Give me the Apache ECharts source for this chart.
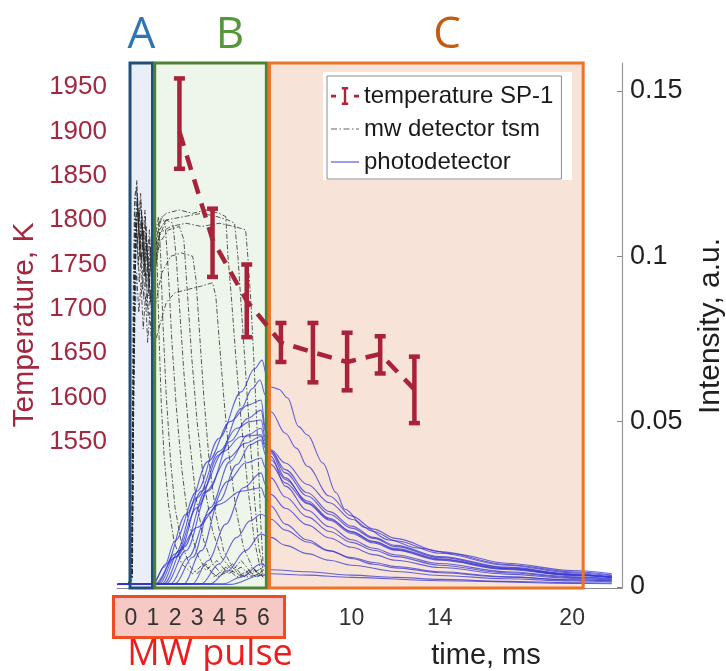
<!DOCTYPE html>
<html><head><meta charset="utf-8">
<script src="https://cdn.jsdelivr.net/npm/echarts@6/dist/echarts.min.js"></script>
<style>html,body{margin:0;padding:0;background:#fff}#c{width:726px;height:671px}</style>
</head><body><div id="c"></div>
<script>
// ---------- tick labels ----------
const xTickValues = [0, 1, 2, 3, 4, 5, 6, 10, 14, 20];
const tempTickValues = [1550, 1600, 1650, 1700, 1750, 1800, 1850, 1900, 1950];
const intensityTickValues = [0, 0.05, 0.1, 0.15];

// ---------- temperature SP-1 (errorbars) ----------
const tempTime = [2.2, 3.7, 5.25, 6.8, 8.25, 9.8, 11.3, 12.85];
const tempMean = [1900, 1778, 1709, 1662, 1651, 1640, 1649, 1609];
const tempLow  = [1858, 1736, 1668, 1640, 1617, 1608, 1627, 1571];
const tempHigh = [1960, 1813, 1750, 1684, 1684, 1673, 1669, 1646];

// ---------- phase regions (time, ms) ----------
const regionNames = ['A', 'B', 'C'];
const regionStart = [-0.04, 1.08, 6.28];
const regionEnd = [0.98, 6.14, 20.5];

// ---------- mw detector tsm traces [time ms, intensity] ----------
const mw1 = [[-0.1,0.001],[0.03,0.004],[0.1,0.07],[0.18,0.115],[0.27,0.123],[0.35,0.108],[0.45,0.117],[0.55,0.1],[0.65,0.112],[0.75,0.096],[0.85,0.105],[0.95,0.092],[1.05,0.1],[1.15,0.108],[1.25,0.112],[1.35,0.1],[1.45,0.08],[1.6,0.058],[1.8,0.038],[2.0,0.024],[2.3,0.013],[2.7,0.006],[3.0,0.004],[3.4,0.007],[3.8,0.003],[4.3,0.006],[4.8,0.003],[5.3,0.005],[5.7,0.003],[6.0,0.004]];
const mw2 = [[-0.1,0.001],[0.05,0.003],[0.12,0.06],[0.2,0.1],[0.3,0.118],[0.4,0.102],[0.5,0.111],[0.6,0.095],[0.7,0.104],[0.8,0.088],[0.9,0.098],[1.0,0.088],[1.1,0.1],[1.25,0.108],[1.4,0.112],[1.55,0.11],[1.7,0.095],[1.85,0.075],[2.05,0.055],[2.3,0.036],[2.6,0.02],[3.0,0.01],[3.4,0.005],[3.9,0.008],[4.4,0.004],[5.0,0.006],[5.5,0.003],[6.0,0.005]];
const mw3 = [[-0.1,0.001],[0.04,0.003],[0.1,0.05],[0.16,0.09],[0.25,0.11],[0.33,0.097],[0.42,0.106],[0.52,0.09],[0.62,0.1],[0.72,0.085],[0.83,0.095],[0.95,0.08],[1.05,0.09],[1.15,0.1],[1.3,0.108],[1.6,0.111],[1.9,0.11],[2.05,0.1],[2.2,0.085],[2.4,0.065],[2.65,0.045],[2.95,0.027],[3.3,0.014],[3.7,0.007],[4.1,0.004],[4.6,0.007],[5.1,0.003],[5.6,0.005],[6.0,0.003]];
const mw4 = [[-0.1,0.001],[0.06,0.004],[0.13,0.08],[0.22,0.112],[0.3,0.104],[0.38,0.114],[0.48,0.098],[0.58,0.108],[0.68,0.092],[0.78,0.1],[0.88,0.086],[0.98,0.094],[1.1,0.096],[1.3,0.104],[1.7,0.108],[2.2,0.109],[2.4,0.105],[2.55,0.09],[2.75,0.07],[3.0,0.05],[3.3,0.032],[3.7,0.017],[4.1,0.009],[4.6,0.005],[5.0,0.008],[5.5,0.004],[6.0,0.006]];
const mw5 = [[-0.1,0.001],[0.05,0.002],[0.11,0.045],[0.18,0.08],[0.26,0.095],[0.36,0.083],[0.46,0.092],[0.56,0.078],[0.66,0.088],[0.76,0.074],[0.86,0.083],[0.96,0.07],[1.1,0.074],[1.3,0.079],[1.6,0.086],[2.0,0.089],[2.6,0.09],[3.2,0.091],[3.7,0.092],[3.85,0.088],[4.0,0.075],[4.2,0.058],[4.45,0.04],[4.75,0.024],[5.1,0.012],[5.5,0.006],[5.8,0.004],[6.0,0.005]];
const mw6 = [[-0.1,0.001],[0.04,0.005],[0.1,0.085],[0.17,0.118],[0.25,0.121],[0.34,0.11],[0.44,0.119],[0.54,0.105],[0.64,0.114],[0.74,0.1],[0.84,0.108],[0.94,0.095],[1.05,0.1],[1.15,0.105],[1.3,0.111],[1.6,0.113],[2.2,0.114],[2.8,0.113],[3.4,0.114],[4.0,0.113],[4.3,0.112],[4.4,0.1],[4.55,0.088],[4.75,0.07],[5.0,0.05],[5.3,0.03],[5.6,0.014],[5.85,0.006],[6.0,0.004]];
const mw7 = [[-0.1,0.001],[0.07,0.003],[0.14,0.07],[0.22,0.105],[0.32,0.113],[0.42,0.099],[0.52,0.11],[0.62,0.094],[0.72,0.104],[0.82,0.09],[0.92,0.1],[1.02,0.092],[1.1,0.098],[1.3,0.107],[1.8,0.109],[2.5,0.11],[3.2,0.109],[4.0,0.11],[4.7,0.109],[5.2,0.108],[5.3,0.1],[5.45,0.085],[5.6,0.065],[5.75,0.043],[5.88,0.02],[6.0,0.006]];
const mw8 = [[-0.1,0.001],[0.05,0.003],[0.12,0.065],[0.2,0.104],[0.3,0.116],[0.4,0.1],[0.5,0.112],[0.6,0.097],[0.7,0.107],[0.8,0.093],[0.9,0.101],[1.0,0.09],[1.1,0.095],[1.3,0.106],[1.6,0.111],[2.4,0.112],[3.2,0.113],[3.9,0.112],[4.4,0.111],[4.7,0.11],[4.85,0.1],[5.0,0.085],[5.2,0.065],[5.4,0.045],[5.6,0.027],[5.8,0.012],[6.0,0.005]];
const mw9 = [[-0.1,0.001],[0.04,0.003],[0.11,0.055],[0.19,0.095],[0.28,0.106],[0.38,0.092],[0.48,0.101],[0.58,0.087],[0.68,0.096],[0.78,0.082],[0.88,0.09],[0.98,0.079],[1.1,0.085],[1.4,0.095],[1.8,0.1],[2.3,0.101],[2.8,0.1],[2.95,0.093],[3.1,0.078],[3.3,0.058],[3.55,0.038],[3.85,0.022],[4.2,0.011],[4.6,0.006],[5.0,0.003],[5.5,0.006],[6.0,0.003]];
const mw10 = [[-0.1,0.001],[0.06,0.004],[0.13,0.075],[0.21,0.11],[0.29,0.119],[0.39,0.105],[0.49,0.114],[0.59,0.099],[0.69,0.109],[0.79,0.094],[0.89,0.103],[0.99,0.094],[1.05,0.1],[1.15,0.106],[1.2,0.095],[1.28,0.075],[1.38,0.055],[1.5,0.04],[1.7,0.025],[1.95,0.014],[2.3,0.007],[2.8,0.004],[3.3,0.007],[3.9,0.003],[4.5,0.005],[5.2,0.003],[6.0,0.004]];

// ---------- photodetector traces [time ms, intensity] ----------
const pd1 = [[-0.6,0.0008],[1.0,0.001],[1.5,0.006],[2.0,0.014],[3.0,0.029],[4.0,0.045],[5.0,0.059],[5.6,0.066],[5.95,0.0686],[6.15,0.064],[6.35,0.0605],[6.7,0.0598],[7.1,0.0572],[7.6,0.0485],[8.0,0.046],[8.7,0.0375],[9.3,0.0285],[9.7,0.0235],[10.6,0.018],[11.7,0.0142],[13.0,0.0118],[14.7,0.01],[17.0,0.0072],[20.0,0.005],[21.8,0.004]];
const pd2 = [[-0.6,0.0008],[1.3,0.001],[2.0,0.009],[3.0,0.024],[4.0,0.04],[5.0,0.054],[5.5,0.06],[5.85,0.0626],[6.1,0.058],[6.35,0.053],[7.0,0.0465],[7.5,0.042],[8.0,0.0365],[9.0,0.0275],[10.0,0.0215],[11.0,0.0175],[12.0,0.0147],[14.0,0.0107],[17.0,0.0068],[20.0,0.0046],[21.8,0.0036]];
const pd3 = [[-0.6,0.0008],[1.0,0.001],[1.6,0.007],[2.5,0.022],[3.5,0.038],[4.5,0.05],[5.3,0.055],[5.9,0.0565],[6.1,0.048],[6.35,0.0415],[7.0,0.0375],[8.0,0.031],[9.0,0.0255],[10.0,0.0205],[11.0,0.0168],[12.0,0.014],[14.0,0.0102],[17.0,0.0066],[20.0,0.0043],[21.8,0.0034]];
const pd4 = [[-0.6,0.0008],[1.6,0.001],[2.5,0.011],[3.5,0.029],[4.5,0.044],[5.3,0.051],[5.9,0.0535],[6.1,0.047],[6.35,0.0412],[7.0,0.0355],[8.0,0.0285],[9.0,0.0228],[10.0,0.0184],[11.0,0.015],[12.0,0.0126],[14.0,0.0092],[17.0,0.006],[20.0,0.004],[21.8,0.0031]];
const pd5 = [[-0.6,0.0008],[1.2,0.001],[2.0,0.01],[3.0,0.027],[4.0,0.041],[4.8,0.048],[5.4,0.05],[5.9,0.0505],[6.1,0.045],[6.35,0.0405],[7.0,0.033],[8.0,0.0255],[9.0,0.0205],[10.0,0.0168],[11.0,0.0138],[12.0,0.0116],[14.0,0.0085],[17.0,0.0056],[20.0,0.0037],[21.8,0.003]];
const pd6 = [[-0.6,0.0008],[2.0,0.001],[2.8,0.009],[3.6,0.024],[4.5,0.038],[5.3,0.046],[5.9,0.048],[6.1,0.044],[6.35,0.041],[7.0,0.0345],[8.0,0.0275],[9.0,0.022],[10.0,0.0178],[11.0,0.0147],[12.0,0.0122],[14.0,0.0089],[17.0,0.0058],[20.0,0.0038],[21.8,0.003]];
const pd7 = [[-0.6,0.0008],[1.4,0.001],[2.2,0.011],[3.2,0.029],[4.2,0.041],[5.0,0.0455],[5.9,0.046],[6.1,0.043],[6.35,0.0395],[7.0,0.0305],[8.0,0.0232],[9.0,0.0182],[10.0,0.0143],[11.0,0.0117],[12.0,0.0097],[14.0,0.0071],[17.0,0.0046],[20.0,0.0031],[21.8,0.0025]];
const pd8 = [[-0.6,0.0008],[2.4,0.001],[3.2,0.011],[4.0,0.026],[4.8,0.037],[5.4,0.043],[5.9,0.0445],[6.1,0.04],[6.35,0.037],[7.0,0.0315],[8.0,0.0252],[9.0,0.0202],[10.0,0.0162],[11.0,0.0133],[12.0,0.0111],[14.0,0.0081],[17.0,0.0053],[20.0,0.0035],[21.8,0.0028]];
const pd9 = [[-0.6,0.0008],[1.8,0.001],[2.6,0.009],[3.5,0.022],[4.4,0.032],[5.2,0.0375],[5.9,0.039],[6.1,0.036],[6.35,0.033],[7.0,0.0272],[8.0,0.0212],[9.0,0.0168],[10.0,0.0135],[11.0,0.0111],[12.0,0.0092],[14.0,0.0066],[17.0,0.0043],[20.0,0.0029],[21.8,0.0023]];
const pd10 = [[-0.6,0.0008],[2.8,0.001],[3.5,0.008],[4.3,0.019],[5.1,0.03],[5.9,0.0345],[6.1,0.031],[6.35,0.028],[7.0,0.0238],[8.0,0.0188],[9.0,0.0148],[10.0,0.012],[11.0,0.0098],[12.0,0.0081],[14.0,0.0059],[17.0,0.0039],[20.0,0.0026],[21.8,0.0021]];
const pd11 = [[-0.6,0.0008],[1.1,0.001],[2.0,0.009],[3.0,0.018],[4.0,0.025],[5.0,0.029],[5.9,0.03],[6.1,0.027],[6.35,0.0245],[7.0,0.019],[8.0,0.0142],[9.0,0.011],[10.0,0.0086],[11.0,0.0069],[12.0,0.0058],[14.0,0.0043],[17.0,0.003],[20.0,0.0021],[21.8,0.0018]];
const pd12 = [[-0.6,0.0008],[3.2,0.001],[4.0,0.007],[4.8,0.015],[5.4,0.02],[5.9,0.022],[6.35,0.0205],[7.0,0.0172],[8.0,0.0136],[9.0,0.0109],[10.0,0.0089],[11.0,0.0074],[12.0,0.0062],[14.0,0.0046],[17.0,0.0031],[20.0,0.0022],[21.8,0.0019]];
const pd13 = [[-0.6,0.0008],[3.6,0.001],[4.4,0.005],[5.2,0.011],[5.9,0.016],[6.35,0.015],[7.0,0.0126],[8.0,0.0101],[9.0,0.0081],[10.0,0.0066],[12.0,0.0047],[14.0,0.0035],[17.0,0.0025],[20.0,0.0018],[21.8,0.0016]];
const pd14 = [[-0.6,0.0008],[4.2,0.001],[5.0,0.003],[5.9,0.007],[6.35,0.0052],[8.0,0.0046],[10.0,0.0036],[12.0,0.0029],[14.0,0.0023],[17.0,0.0017],[20.0,0.0013],[21.8,0.0012]];
const pd15 = [[-0.6,0.0008],[4.5,0.0008],[5.9,0.0035],[6.35,0.004],[8.0,0.0036],[10.0,0.0029],[14.0,0.0019],[20.0,0.0011],[21.8,0.001]];
const pd16 = [[-0.6,0.0008],[1.5,0.001],[2.4,0.012],[3.4,0.029],[4.4,0.039],[5.2,0.0435],[5.9,0.0455],[6.1,0.042],[6.35,0.0385],[7.0,0.0325],[8.0,0.026],[9.0,0.0208],[10.0,0.0166],[11.0,0.0136],[12.0,0.0113],[14.0,0.0083],[17.0,0.0055],[20.0,0.0036],[21.8,0.0029]];

const mwTraces = [mw1, mw2, mw3, mw4, mw5, mw6, mw7, mw8, mw9, mw10];
const pdTraces = [pd1, pd2, pd3, pd4, pd5, pd6, pd7, pd8, pd9, pd10, pd11, pd12, pd13, pd14, pd15, pd16];

// ---------- styles ----------
const FONT = 'Liberation Sans, Arial, sans-serif';
const TEMP_COLOR = '#a8233a';
const TEMP_LABEL = '#a3283f';
const MW_COLOR = '#262626';
const PD_COLOR = '#3434d4';
const regionFill = ['#e9eef8', '#eef6eb', '#f7e3d8'];
const regionBorder = ['#1f4e79', '#4f8234', '#ec7426'];
const regionLabelColor = ['#2e75b6', '#56973c', '#c55a11'];
const regionLabelX = [141.5, 230, 447];

const chart = echarts.init(document.getElementById('c'), null, {renderer: 'canvas'});

const series = [];
series.push({
  type: 'line', name: 'regions-fill', data: [], xAxisIndex: 0, yAxisIndex: 1, silent: true,
  markArea: {
    silent: true, z: 1, label: {show: false},
    data: regionNames.map((n, i) => [
      {xAxis: regionStart[i], itemStyle: {color: regionFill[i], opacity: 1, borderWidth: 0}},
      {xAxis: regionEnd[i]}
    ])
  }
});
mwTraces.forEach(tr => series.push({
  type: 'line', name: 'mw detector tsm', data: tr, xAxisIndex: 0, yAxisIndex: 1,
  symbol: 'none', z: 2, silent: true,
  lineStyle: {color: MW_COLOR, width: 0.9, opacity: 0.85, type: [5, 2, 1.5, 2]},
  itemStyle: {color: MW_COLOR}
}));
pdTraces.forEach(tr => series.push({
  type: 'line', name: 'photodetector', data: tr, xAxisIndex: 0, yAxisIndex: 1,
  symbol: 'none', z: 2, silent: true, smooth: 0.35, smoothMonotone: 'x',
  lineStyle: {color: PD_COLOR, width: 1.1, opacity: 0.75},
  itemStyle: {color: PD_COLOR}
}));
series.push({
  type: 'line', name: 'regions-border', data: [], xAxisIndex: 0, yAxisIndex: 1, silent: true,
  markArea: {
    silent: true, z: 3, label: {show: false},
    data: regionNames.map((n, i) => [
      {xAxis: regionStart[i], itemStyle: {color: 'rgba(0,0,0,0)', borderColor: regionBorder[i], borderWidth: 3, opacity: 1}},
      {xAxis: regionEnd[i]}
    ])
  }
});
series.push({
  type: 'line', name: 'temperature SP-1', data: tempTime.map((t, i) => [t, tempMean[i]]),
  xAxisIndex: 0, yAxisIndex: 0, symbol: 'none', z: 6, silent: true,
  lineStyle: {color: TEMP_COLOR, width: 4.5, type: [15, 10]},
  itemStyle: {color: TEMP_COLOR}
});
series.push({
  type: 'custom', name: 'temperature SP-1', xAxisIndex: 0, yAxisIndex: 0, z: 6, silent: true,
  data: tempTime.map((t, i) => [t, tempLow[i], tempHigh[i]]),
  encode: {x: 0, y: [1, 2]},
  itemStyle: {color: TEMP_COLOR},
  renderItem: function (params, api) {
    const x = api.value(0);
    const pLo = api.coord([x, api.value(1)]);
    const pHi = api.coord([x, api.value(2)]);
    const hw = 5.5;
    const st = {stroke: TEMP_COLOR, lineWidth: 4.5, fill: null};
    return {type: 'group', children: [
      {type: 'line', shape: {x1: pLo[0], y1: pLo[1], x2: pHi[0], y2: pHi[1]}, style: st},
      {type: 'line', shape: {x1: pLo[0] - hw, y1: pLo[1], x2: pLo[0] + hw, y2: pLo[1]}, style: st},
      {type: 'line', shape: {x1: pHi[0] - hw, y1: pHi[1], x2: pHi[0] + hw, y2: pHi[1]}, style: st}
    ]};
  }
});

const anchor = 'M0,0h0.01v0.01h-0.01z M27.99,21.99h0.01v0.01h-0.01z ';
const iconTemp = 'path://' + anchor + 'M0,9.8h5v2.6h-5z M23,9.8h5v2.6h-5z M12.8,3h2.4v16h-2.4z M10.8,2h6.4v2.6h-6.4z M10.8,17.4h6.4v2.6h-6.4z';
const iconMw = 'path://' + anchor + 'M0,10.5h6v1h-6z M8.5,10.5h1.5v1h-1.5z M12.5,10.5h6v1h-6z M21,10.5h1.5v1h-1.5z M25,10.5h3v1h-3z';
const iconPd = 'path://' + anchor + 'M0,10.5h28v1h-28z';

const option = {
  animation: false,
  backgroundColor: '#ffffff',
  grid: {left: 117, right: 104, top: 63, bottom: 83, containLabel: false},
  legend: {
    left: 327, top: 76, orient: 'vertical',
    backgroundColor: '#ffffff', borderColor: '#8c8c8c', borderWidth: 1,
    padding: [8, 8, 5, 4], itemGap: 9, itemWidth: 28, itemHeight: 22,
    selectedMode: false,
    textStyle: {fontSize: 24, fontFamily: FONT, color: '#1a1a1a', lineHeight: 22},
    data: [
      {name: 'temperature SP-1', icon: iconTemp, itemStyle: {color: '#b0243a', borderWidth: 0}},
      {name: 'mw detector tsm', icon: iconMw, itemStyle: {color: '#666666', borderWidth: 0}},
      {name: 'photodetector', icon: iconPd, itemStyle: {color: '#3a3ad8', borderWidth: 0}}
    ]
  },
  xAxis: {
    type: 'value', min: -0.63, max: 22.26,
    axisLine: {show: true, onZero: false, lineStyle: {color: '#8a8a8a', width: 1}},
    axisTick: {show: false},
    splitLine: {show: false},
    axisLabel: {customValues: xTickValues, fontSize: 23, fontFamily: FONT, color: '#333333', margin: 19,
      formatter: v => String(v)}
  },
  yAxis: [
    {
      type: 'value', position: 'left', min: 1384.9, max: 1977.4,
      axisLine: {show: true, lineStyle: {color: '#e2a3ad', width: 1.2}},
      axisTick: {show: true, inside: true, length: 5, customValues: tempTickValues, lineStyle: {color: '#d98e9a'}},
      splitLine: {show: false},
      axisLabel: {customValues: tempTickValues, fontSize: 26, fontFamily: FONT, color: TEMP_LABEL, margin: 10,
        formatter: v => String(v)}
    },
    {
      type: 'value', position: 'right', min: -0.0003, max: 0.15845,
      axisLine: {show: true, onZero: false, lineStyle: {color: '#999999', width: 1.2}},
      axisTick: {show: true, inside: true, length: 5, customValues: intensityTickValues, lineStyle: {color: '#888888'}},
      splitLine: {show: false},
      axisLabel: {customValues: intensityTickValues, fontSize: 27, fontFamily: FONT, color: '#1f1f1f', margin: 8,
        formatter: v => String(v)}
    }
  ],
  graphic: [
    {type: 'rect', z: 3.5, silent: true, shape: {x: 323, y: 72, width: 249, height: 108}, style: {fill: '#ffffff'}},
    {type: 'rect', z: -1, silent: true, shape: {x: 113.5, y: 596.5, width: 171, height: 41}, style: {fill: '#f6c9c4', stroke: '#ef4c24', lineWidth: 3}},
    {type: 'text', z: 5, silent: true, x: 210, y: 655, style: {text: 'MW pulse', fontSize: 36, fontFamily: 'Open Sans, sans-serif', fill: '#ee1d1d', textAlign: 'center', textVerticalAlign: 'middle'}},
    {type: 'text', z: 5, silent: true, x: 486, y: 656, style: {text: 'time, ms', fontSize: 29, fontFamily: FONT, fill: '#222222', textAlign: 'center', textVerticalAlign: 'middle'}},
    {type: 'text', z: 5, silent: true, x: 25, y: 325, rotation: Math.PI / 2, style: {text: 'Temperature, K', fontSize: 30, fontFamily: FONT, fill: TEMP_LABEL, textAlign: 'center', textVerticalAlign: 'middle'}},
    {type: 'text', z: 5, silent: true, x: 711, y: 326, rotation: Math.PI / 2, style: {text: 'Intensity, a.u.', fontSize: 30, fontFamily: FONT, fill: '#1f1f1f', textAlign: 'center', textVerticalAlign: 'middle'}}
  ].concat(regionNames.map((n, i) => ({
    type: 'text', z: 5, silent: true, x: regionLabelX[i], y: 35,
    style: {text: n, fontSize: 44, fontFamily: 'Open Sans, sans-serif', fill: regionLabelColor[i], textAlign: 'center', textVerticalAlign: 'middle'}
  }))),
  series: series
};
chart.setOption(option);
</script>
</body></html>
